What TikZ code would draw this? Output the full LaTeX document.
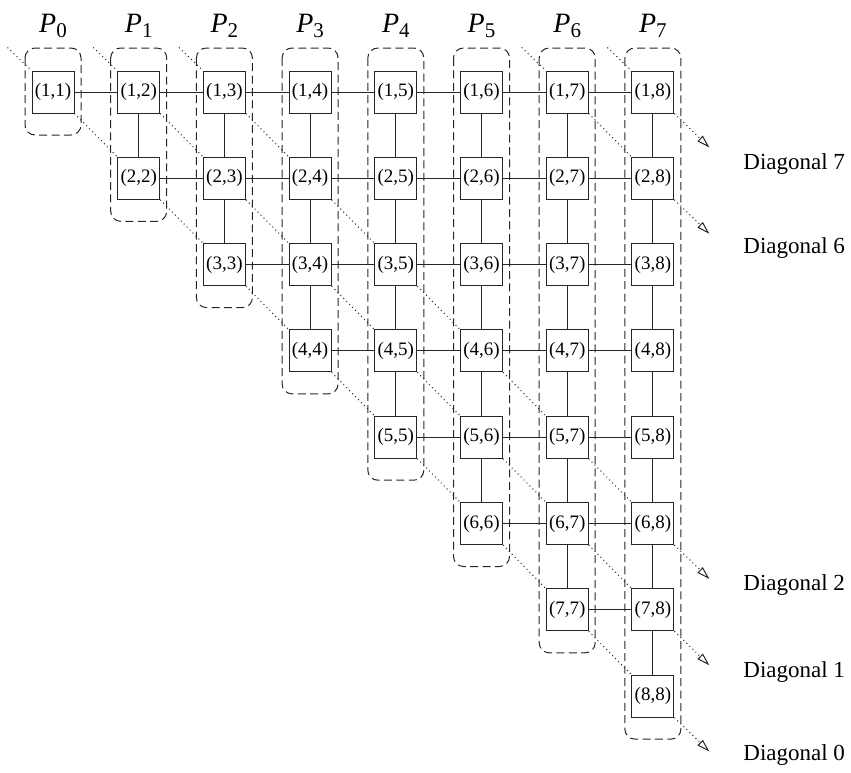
\documentclass[tikz,border=0pt]{standalone}
\usepackage{fontspec}
\setmainfont{Liberation Serif}
\usetikzlibrary{arrows.meta,calc}
\begin{document}
\begin{tikzpicture}[x=0.5pt,y=-0.5pt,
  cell/.style={draw=black!85, line width=0.5pt, minimum size=21pt, inner sep=0pt, font=\fontsize{9.5}{11}\selectfont},
  link/.style={draw=black!85, line width=0.5pt},
  grp/.style={draw=black!85, dash pattern=on 4pt off 2.2pt, rounded corners=5pt, line width=0.5pt},
  diag/.style={draw=black!85, dash pattern=on 0.5pt off 1.6pt, line width=0.5pt},
  diagarrow/.style={diag, -{Triangle[open,length=6.5pt,width=3.8pt,line width=0.5pt]}},
  plabel/.style={font=\fontsize{14}{16}\selectfont, inner sep=0pt},
  dlabel/.style={font=\fontsize{11.5}{13}\selectfont, inner sep=0pt, anchor=west}]
\useasboundingbox (0,0) rectangle (851,772);
% cells
\foreach \j in {1,...,8} {
  \foreach \i in {1,...,\j} {
    \node[cell] (c\i\j) at ({53+85.7*(\j-1)},{92+86.3*(\i-1)}) {(\i,\j)};
  }
}
% horizontal links
\foreach \i in {1,...,7} {
  \foreach \j in {\i,...,7} {
    \pgfmathtruncatemacro{\jn}{\j+1}
    \draw[link] (c\i\j) -- (c\i\jn);
  }
}
% vertical links
\foreach \j in {2,...,8} {
  \pgfmathtruncatemacro{\jm}{\j-1}
  \foreach \i in {1,...,\jm} {
    \pgfmathtruncatemacro{\in}{\i+1}
    \draw[link] (c\i\j) -- (c\in\j);
  }
}
% processor groups
\foreach \j in {1,...,8} {
  \pgfmathtruncatemacro{\k}{\j-1}
  \draw[grp] ($(c1\j.center)+(-28,-44)$) rectangle ($(c\j\j.center)+(28,43)$);
  \node[plabel] (p\k) at ($(c1\j.center)+(0,-66)$) {\textit{P}\raisebox{-0.35ex}{\fontsize{10.5}{12}\selectfont\k}};
}
% diagonals
\foreach \d in {0,1,2,6,7} {
  \pgfmathtruncatemacro{\s}{1+\d}
  \pgfmathtruncatemacro{\n}{8-\d}
  \coordinate (ds\d) at ($(c1\s.north west)+(-24,-23)$);
  \draw[diag] (ds\d) -- (c1\s.north west);
  \foreach \i in {1,...,\n} {
    \pgfmathtruncatemacro{\jj}{\i+\d}
    \pgfmathtruncatemacro{\ii}{\i+1}
    \pgfmathtruncatemacro{\jn}{\i+\d+1}
    \ifnum\i<\n
      \draw[diag] (c\i\jj.south east) -- (c\ii\jn.north west);
    \else
      \coordinate (de\d) at ($(c\i\jj.south east)+(35,34)$);
      \draw[diagarrow] (c\i\jj.south east) -- (de\d);
    \fi
  }
}
% diagonal labels
\node[dlabel] (l7) at (743,164) {Diagonal 7};
\node[dlabel] (l6) at (743,248) {Diagonal 6};
\node[dlabel] (l2) at (743,585) {Diagonal 2};
\node[dlabel] (l1) at (743,672) {Diagonal 1};
\node[dlabel] (l0) at (743,755) {Diagonal 0};
\end{tikzpicture}
\end{document}
